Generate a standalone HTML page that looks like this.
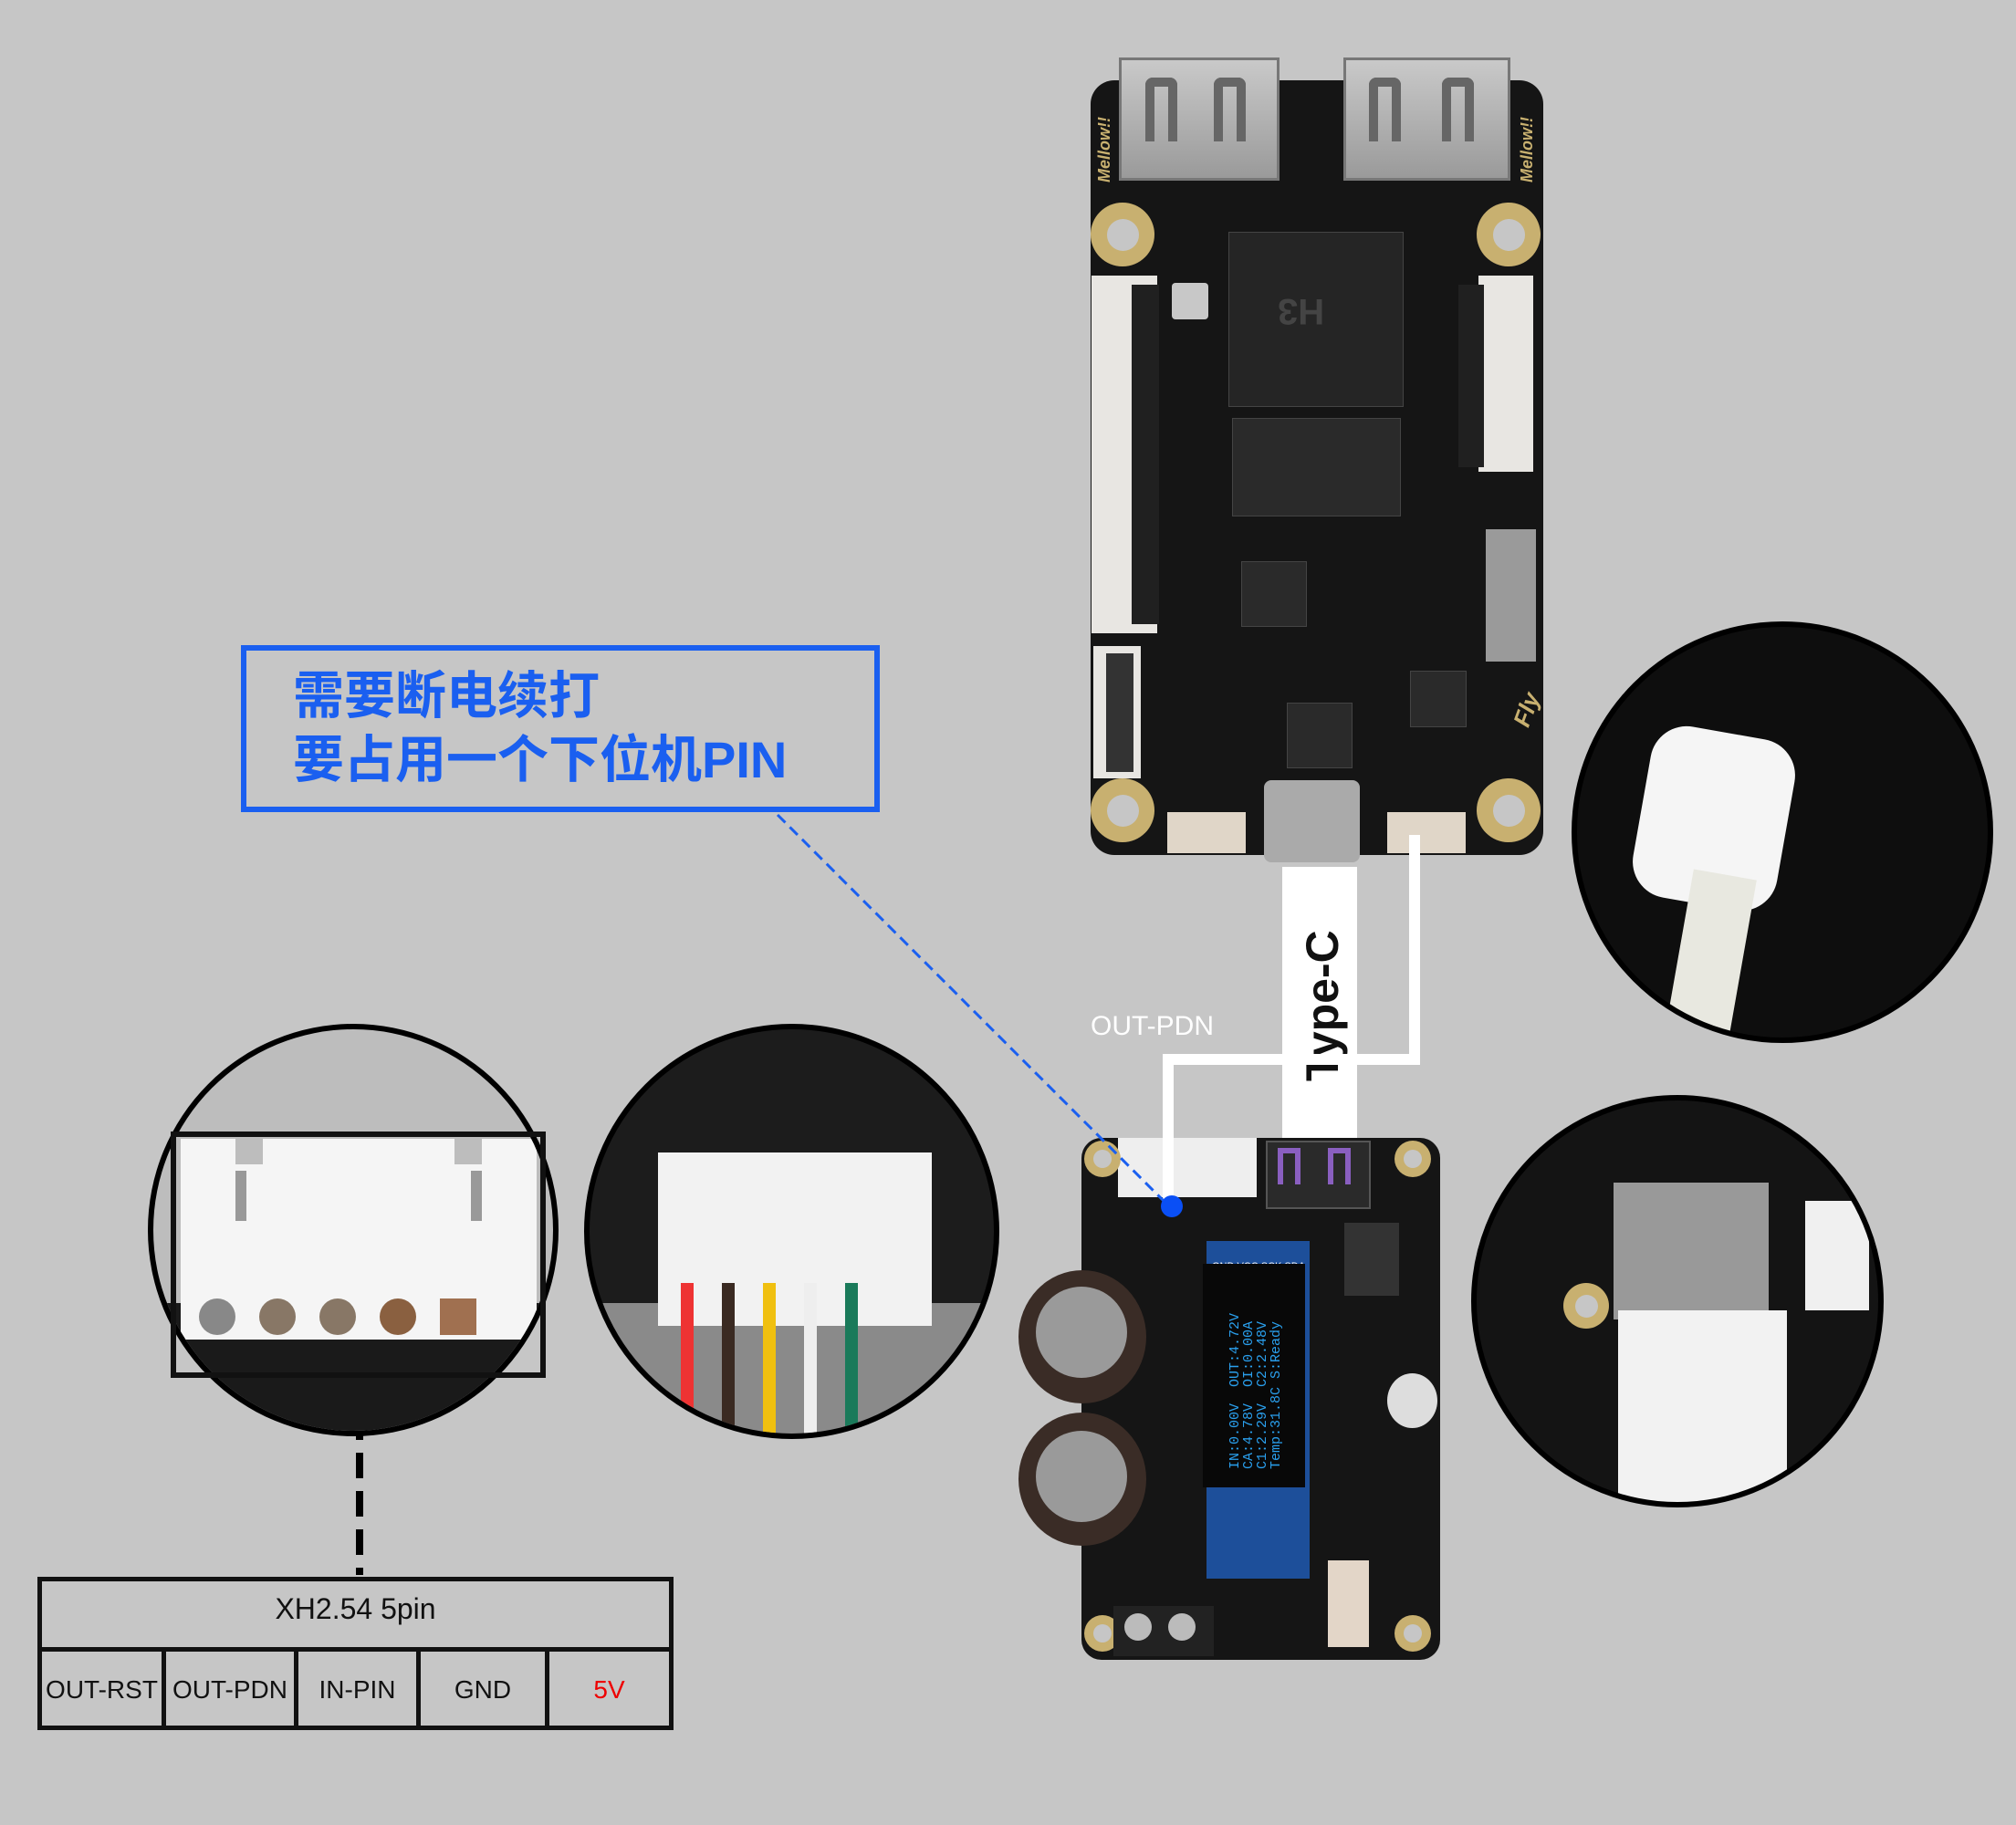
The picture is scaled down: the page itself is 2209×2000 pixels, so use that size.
<!DOCTYPE html>
<html><head><meta charset="utf-8">
<style>
html,body{margin:0;padding:0}
body{width:2209px;height:2000px;background:#c6c6c6;position:relative;overflow:hidden;font-family:"Liberation Sans","Noto Sans CJK SC",sans-serif}
.a{position:absolute;box-sizing:border-box}
.blk{background:#151515}
.pad{position:absolute;border-radius:50%;background:#c8b070;box-sizing:border-box}
.pad::after{content:"";position:absolute;left:25%;top:25%;width:50%;height:50%;border-radius:50%;background:#c6c6c6}
.chip{position:absolute;background:#2a2a2a;border:1px solid #444}
.smd{position:absolute;background:#555}
.circle{position:absolute;border-radius:50%;border:6px solid #000;overflow:hidden;box-sizing:border-box}
</style></head><body>

<!-- TOP BOARD -->
<div class="a blk" style="left:1195px;top:88px;width:496px;height:849px;border-radius:26px"></div>
<div class="a" style="left:1226px;top:63px;width:176px;height:135px;background:linear-gradient(#c9c9c9,#9a9a9a);border:3px solid #777"></div>
<div class="a" style="left:1472px;top:63px;width:183px;height:135px;background:linear-gradient(#c9c9c9,#9a9a9a);border:3px solid #777"></div>
<div class="a" style="left:1255px;top:85px;width:35px;height:70px;border:10px solid #666;border-bottom:none;border-radius:8px 8px 0 0"></div>
<div class="a" style="left:1330px;top:85px;width:35px;height:70px;border:10px solid #666;border-bottom:none;border-radius:8px 8px 0 0"></div>
<div class="a" style="left:1500px;top:85px;width:35px;height:70px;border:10px solid #666;border-bottom:none;border-radius:8px 8px 0 0"></div>
<div class="a" style="left:1580px;top:85px;width:35px;height:70px;border:10px solid #666;border-bottom:none;border-radius:8px 8px 0 0"></div>
<div class="pad" style="left:1195px;top:222px;width:70px;height:70px"></div>
<div class="pad" style="left:1618px;top:222px;width:70px;height:70px"></div>
<div class="pad" style="left:1195px;top:853px;width:70px;height:70px"></div>
<div class="pad" style="left:1618px;top:853px;width:70px;height:70px"></div>
<div class="a" style="left:1196px;top:302px;width:72px;height:392px;background:#e8e6e2"></div>
<div class="a" style="left:1240px;top:312px;width:30px;height:372px;background:#202020"></div>
<div class="a" style="left:1620px;top:302px;width:60px;height:215px;background:#e8e6e2"></div>
<div class="a" style="left:1598px;top:312px;width:28px;height:200px;background:#202020"></div>
<div class="a" style="left:1198px;top:708px;width:52px;height:145px;background:#e8e6e2"></div>
<div class="a" style="left:1212px;top:716px;width:30px;height:130px;background:#333"></div>
<div class="chip" style="left:1346px;top:254px;width:190px;height:190px;background:#252525"></div>
<div class="a" style="left:1400px;top:318px;font:bold 40px 'Liberation Sans';color:#444;transform:rotate(180deg)">H3</div>
<div class="chip" style="left:1350px;top:458px;width:183px;height:106px"></div>
<div class="a" style="left:1628px;top:580px;width:55px;height:145px;background:#9a9a9a"></div>
<div class="a" style="left:1284px;top:310px;width:40px;height:40px;background:#c8c8c8;border-radius:4px"></div>
<div class="chip" style="left:1360px;top:615px;width:70px;height:70px"></div>
<div class="chip" style="left:1410px;top:770px;width:70px;height:70px"></div>
<div class="chip" style="left:1545px;top:735px;width:60px;height:60px"></div>
<div class="a" style="left:1279px;top:890px;width:86px;height:45px;background:#e0d6c8"></div>
<div class="a" style="left:1520px;top:890px;width:86px;height:45px;background:#e0d6c8"></div>
<div class="a" style="left:1385px;top:855px;width:105px;height:90px;background:#aaa;border-radius:8px"></div>
<div class="a" style="left:1200px;top:110px;font:bold italic 18px 'Liberation Sans';color:#c8b070;transform:rotate(-90deg);transform-origin:left top;top:200px">Mellow!!</div>
<div class="a" style="left:1663px;top:200px;font:bold italic 18px 'Liberation Sans';color:#c8b070;transform:rotate(-90deg);transform-origin:left top">Mellow!!</div>
<div class="a" style="left:1652px;top:790px;font:bold italic 26px 'Liberation Sans';color:#c8b070;transform:rotate(-70deg);transform-origin:left top">Fly</div>

<!-- white connectors -->
<div class="a" style="left:1405px;top:950px;width:82px;height:297px;background:#fff"></div>
<div class="a" style="left:1420px;top:1185px;font:bold 50px 'Liberation Sans';color:#111;transform:rotate(-90deg);transform-origin:left top;white-space:nowrap">Type-C</div>
<div class="a" style="left:1544px;top:915px;width:12px;height:252px;background:#fff"></div>
<div class="a" style="left:1274px;top:1155px;width:282px;height:12px;background:#fff"></div>
<div class="a" style="left:1274px;top:1155px;width:12px;height:160px;background:#fff"></div>
<div class="a" style="left:1195px;top:1108px;font:30px 'Liberation Sans';color:#fff">OUT-PDN</div>

<!-- BOTTOM BOARD -->
<div class="a blk" style="left:1185px;top:1247px;width:393px;height:572px;border-radius:22px"></div>
<div class="a" style="left:1225px;top:1247px;width:152px;height:65px;background:#eee"></div>
<div class="a" style="left:1274px;top:1200px;width:12px;height:115px;background:#fff"></div>
<div class="a" style="left:1387px;top:1250px;width:115px;height:75px;background:#2a2a2a;border:2px solid #555"></div>
<div class="a" style="left:1400px;top:1258px;width:25px;height:40px;border:6px solid #8a5fc0;border-bottom:none"></div>
<div class="a" style="left:1455px;top:1258px;width:25px;height:40px;border:6px solid #8a5fc0;border-bottom:none"></div>
<div class="pad" style="left:1188px;top:1250px;width:40px;height:40px"></div>
<div class="pad" style="left:1528px;top:1250px;width:40px;height:40px"></div>
<div class="pad" style="left:1188px;top:1770px;width:40px;height:40px"></div>
<div class="pad" style="left:1528px;top:1770px;width:40px;height:40px"></div>
<div class="a" style="left:1116px;top:1392px;width:140px;height:146px;border-radius:50%;background:#3a2c26"></div>
<div class="a" style="left:1135px;top:1410px;width:100px;height:100px;border-radius:50%;background:#9a9a9a"></div>
<div class="a" style="left:1116px;top:1548px;width:140px;height:146px;border-radius:50%;background:#3a2c26"></div>
<div class="a" style="left:1135px;top:1568px;width:100px;height:100px;border-radius:50%;background:#9a9a9a"></div>
<div class="a" style="left:1322px;top:1360px;width:113px;height:370px;background:#1d4f9a"></div>
<div class="a" style="left:1320px;top:1382px;width:118px;height:14px;font:11px 'Liberation Sans';color:#fff;text-align:center">GND VCC SCK SDA</div>
<div class="a" style="left:1318px;top:1385px;width:112px;height:245px;background:#080808"></div>
<div class="a" style="left:1346px;top:1610px;font:15px 'Liberation Mono';color:#2aa0ee;transform:rotate(-90deg);transform-origin:left top;white-space:pre;line-height:15px">IN:0.00V  OUT:4.72V
CA:4.78V  OI:0.00A
C1:2.29V  C2:2.48V
Temp:31.8C S:Ready</div>
<div class="a" style="left:1473px;top:1340px;width:60px;height:80px;background:#333"></div>
<div class="a" style="left:1520px;top:1505px;width:55px;height:60px;border-radius:50%;background:#ddd"></div>
<div class="a" style="left:1455px;top:1710px;width:45px;height:95px;background:#e3d6c8"></div>
<div class="a" style="left:1220px;top:1760px;width:110px;height:55px;background:#222"></div>
<div class="a" style="left:1232px;top:1768px;width:30px;height:30px;border-radius:50%;background:#bbb"></div>
<div class="a" style="left:1280px;top:1768px;width:30px;height:30px;border-radius:50%;background:#bbb"></div>

<!-- BLUE BOX -->
<div class="a" style="left:264px;top:707px;width:700px;height:183px;border:6px solid #1a5ff0"></div>
<div class="a" style="left:321px;top:724px;font:bold 56px 'Noto Sans CJK SC',sans-serif;color:#1a5ff0;line-height:70px;white-space:nowrap">需要断电续打<br>要占用一个下位机<span style="font-family:'Liberation Sans',sans-serif">PIN</span></div>
<svg class="a" style="left:0;top:0" width="2209" height="2000">
<line x1="852" y1="893" x2="1282" y2="1323" stroke="#1a5ff0" stroke-width="3" stroke-dasharray="12,7"/>
<circle cx="1284" cy="1322" r="12" fill="#0a4ff5"/>
<line x1="394" y1="1508" x2="394" y2="1726" stroke="#000" stroke-width="8" stroke-dasharray="28,14"/>
</svg>

<!-- CIRCLE 1 -->
<div class="circle" style="left:162px;top:1122px;width:450px;height:452px;background:#bdbdbd">
 <div class="a" style="left:0;top:300px;width:450px;height:160px;background:#1a1a1a"></div>
 <div class="a" style="left:30px;top:120px;width:390px;height:220px;background:#f5f5f5"></div>
 <div class="a" style="left:90px;top:120px;width:30px;height:28px;background:#bdbdbd"></div>
 <div class="a" style="left:330px;top:120px;width:30px;height:28px;background:#bdbdbd"></div>
 <div class="a" style="left:90px;top:155px;width:12px;height:55px;background:#999"></div>
 <div class="a" style="left:348px;top:155px;width:12px;height:55px;background:#999"></div>
 <div class="a" style="left:50px;top:295px;width:40px;height:40px;border-radius:50%;background:#888"></div>
 <div class="a" style="left:116px;top:295px;width:40px;height:40px;border-radius:50%;background:#887766"></div>
 <div class="a" style="left:182px;top:295px;width:40px;height:40px;border-radius:50%;background:#887766"></div>
 <div class="a" style="left:248px;top:295px;width:40px;height:40px;border-radius:50%;background:#8a6040"></div>
 <div class="a" style="left:314px;top:295px;width:40px;height:40px;background:#a07050"></div>
</div>
<div class="a" style="left:187px;top:1240px;width:411px;height:270px;border:6px solid #111"></div>

<!-- CIRCLE 2 -->
<div class="circle" style="left:640px;top:1122px;width:455px;height:455px;background:#1c1c1c">
 <div class="a" style="left:0;top:300px;width:455px;height:160px;background:#8a8a8a"></div>
 <div class="a" style="left:75px;top:135px;width:300px;height:190px;background:#f2f2f2"></div>
 <div class="a" style="left:100px;top:278px;width:14px;height:180px;background:#e33"></div>
 <div class="a" style="left:145px;top:278px;width:14px;height:180px;background:#3a2a22"></div>
 <div class="a" style="left:190px;top:278px;width:14px;height:180px;background:#f0c010"></div>
 <div class="a" style="left:235px;top:278px;width:14px;height:180px;background:#eee"></div>
 <div class="a" style="left:280px;top:278px;width:14px;height:180px;background:#1a7a5a"></div>
</div>

<!-- CIRCLE 3 -->
<div class="circle" style="left:1722px;top:681px;width:462px;height:462px;background:#0e0e0e">
 <div class="a" style="left:70px;top:115px;width:160px;height:190px;background:#f5f5f5;border-radius:40px;transform:rotate(10deg)"></div>
 <div class="a" style="left:110px;top:270px;width:70px;height:200px;background:#e8e8e0;transform:rotate(10deg)"></div>
</div>

<!-- CIRCLE 4 -->
<div class="circle" style="left:1612px;top:1200px;width:452px;height:452px;background:#141414">
 <div class="a" style="left:150px;top:90px;width:170px;height:150px;background:#999"></div>
 <div class="a" style="left:155px;top:230px;width:185px;height:230px;background:#f2f2f2"></div>
 <div class="a" style="left:360px;top:110px;width:70px;height:120px;background:#f0f0f0"></div>
 <div class="pad" style="left:95px;top:200px;width:50px;height:50px"></div>
</div>

<!-- TABLE -->
<div class="a" style="left:41px;top:1728px;width:697px;height:168px;border:5px solid #111"></div>
<div class="a" style="left:41px;top:1805px;width:697px;height:5px;background:#111"></div>
<div class="a" style="left:41px;top:1745px;width:697px;text-align:center;font:32px 'Liberation Sans';color:#111">XH2.54 5pin</div>
<div class="a" style="left:177px;top:1805px;width:5px;height:90px;background:#111"></div>
<div class="a" style="left:322px;top:1805px;width:5px;height:90px;background:#111"></div>
<div class="a" style="left:456px;top:1805px;width:5px;height:90px;background:#111"></div>
<div class="a" style="left:597px;top:1805px;width:5px;height:90px;background:#111"></div>
<div class="a" style="left:46px;top:1836px;width:131px;text-align:center;font:28px 'Liberation Sans';color:#111">OUT-RST</div>
<div class="a" style="left:182px;top:1836px;width:140px;text-align:center;font:28px 'Liberation Sans';color:#111">OUT-PDN</div>
<div class="a" style="left:327px;top:1836px;width:129px;text-align:center;font:28px 'Liberation Sans';color:#111">IN-PIN</div>
<div class="a" style="left:461px;top:1836px;width:136px;text-align:center;font:28px 'Liberation Sans';color:#111">GND</div>
<div class="a" style="left:602px;top:1836px;width:131px;text-align:center;font:28px 'Liberation Sans';color:#e00">5V</div>
</body></html>
